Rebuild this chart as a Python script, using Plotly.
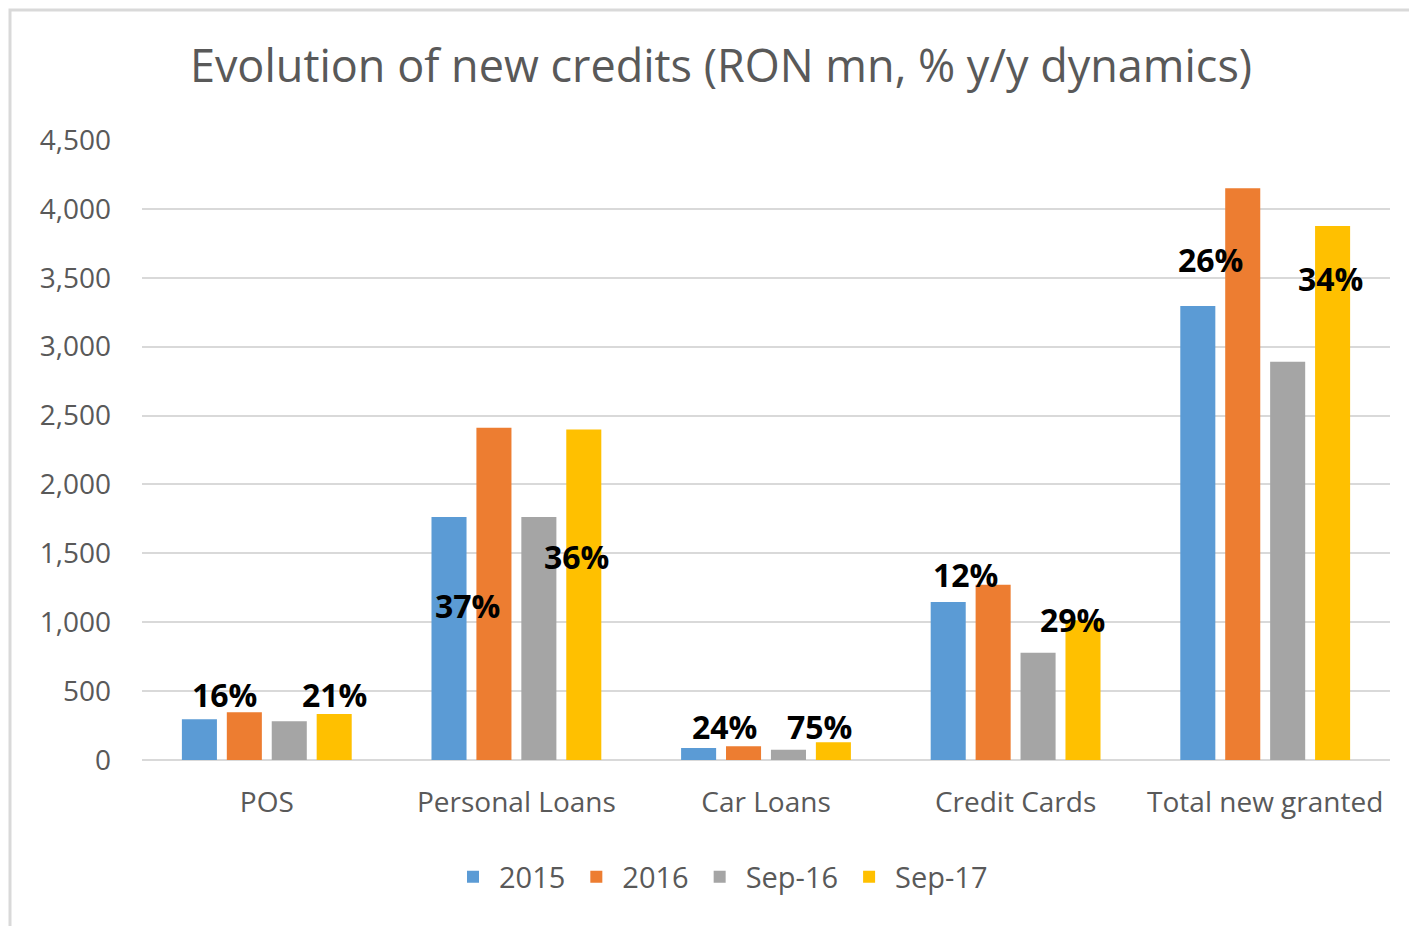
import plotly.graph_objects as go

categories = ["POS", "Personal Loans", "Car Loans", "Credit Cards", "Total new granted"]
series_names = ["2015", "2016", "Sep-16", "Sep-17"]
v2015 = [295, 1763, 87, 1147, 3295]
v2016 = [346, 2411, 99, 1272, 4149]
vsep16 = [281, 1763, 75, 779, 2890]
vsep17 = [334, 2398, 128, 1014, 3875]
colors = ["#5B9BD5", "#ED7D31", "#A5A5A5", "#FFC000"]

# growth labels: text, category, value-level of label
label_text = ["16%", "21%", "37%", "36%", "24%", "75%", "12%", "29%", "26%", "34%"]
label_cat = ["POS", "POS", "Personal Loans", "Personal Loans", "Car Loans", "Car Loans",
             "Credit Cards", "Credit Cards", "Total new granted", "Total new granted"]
label_y = [472, 472, 1125, 1480, 240, 240, 1350, 1023, 3636, 3498]
label_shift = [-42, 68, -49, 60, -42, 53, -50, 57, -55, 65]

OFF = 8  # page body margin
fig = go.Figure()
for name, vals, c in zip(series_names, [v2015, v2016, vsep16, vsep17], colors):
    fig.add_trace(go.Bar(name=name, x=categories, y=vals, marker_color=c,
                         marker_line_width=0))

for t, c, y, s in zip(label_text, label_cat, label_y, label_shift):
    fig.add_annotation(x=c, y=y, xref="x", yref="y", text="<b>%s</b>" % t, showarrow=False,
                       xshift=s, font=dict(family="Open Sans", size=32, color="#000000"))

W0, W1, T0, T1 = 142, 1390, 140, 760
pw, ph = W1 - W0, T1 - T0
fig.add_shape(type="rect", xref="paper", yref="paper",
              x0=(10 - W0) / pw, x1=(1440 - W0) / pw,
              y0=(T1 - 950) / ph, y1=(T1 - 10) / ph,
              line=dict(color="#D9D9D9", width=3), fillcolor="rgba(0,0,0,0)", layer="below")

H = 926
fig.update_layout(
    width=1417, height=H,
    margin=dict(l=W0 - OFF, r=1417 - W1 + OFF, t=T0 - OFF, b=H - T1 + OFF),
    paper_bgcolor="white", plot_bgcolor="white",
    barmode="group", bargap=0.28, bargroupgap=0.22,
    title=dict(text="Evolution of new credits (RON mn, % y/y dynamics)",
               x=(721 - OFF) / 1417, xanchor="center", y=1 - (66 - OFF) / H, yanchor="middle",
               font=dict(family="Open Sans", size=45, color="#595959")),
    font=dict(family="Open Sans", color="#595959"),
    legend=dict(orientation="h", x=(720 - W0) / pw, xanchor="center",
                y=(T1 - 877) / ph, yanchor="middle",
                font=dict(size=29, color="#595959"), itemwidth=42),
    showlegend=True,
)
fig.update_yaxes(range=[0, 4500], dtick=500, tickformat=",", gridcolor="#D9D9D9", gridwidth=2,
                 zeroline=True, zerolinecolor="#D9D9D9", zerolinewidth=2,
                 tickfont=dict(size=28, color="#595959"), ticklabelstandoff=30, showline=False)
fig.update_xaxes(tickfont=dict(size=28, color="#595959"), showline=False, ticks="",
                 ticklabelstandoff=23)

fig.write_html("out.html")
